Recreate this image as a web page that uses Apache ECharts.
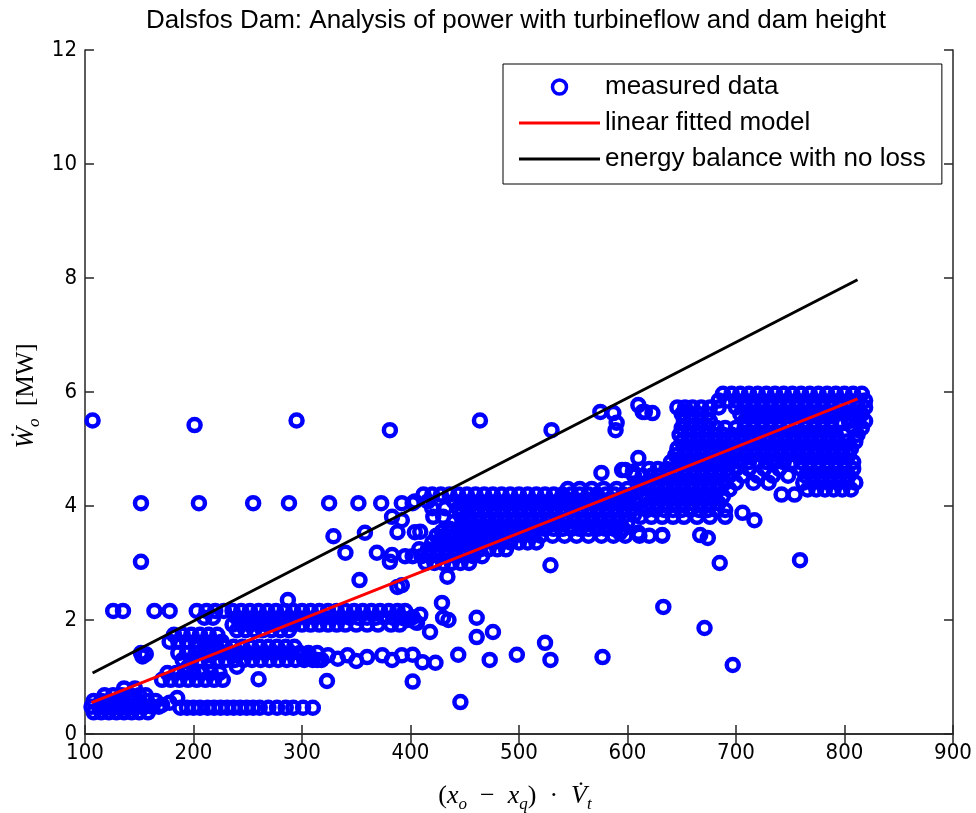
<!DOCTYPE html>
<html>
<head>
<meta charset="utf-8">
<script src="https://cdn.jsdelivr.net/npm/echarts@6/dist/echarts.min.js"></script>
<style>
html,body{margin:0;padding:0;background:#fff;}
#chart{width:976px;height:813px;}
</style>
</head>
<body>
<div id="chart"></div>
<script>
// ---------------- data ----------------
const titleText = 'Dalsfos Dam: Analysis of power with turbineflow and dam height';
const seriesNames = ['measured data', 'linear fitted model', 'energy balance with no loss'];

// fitted model and no-loss line end points
const fittedLine = [[106, 0.55], [812, 5.88]];
const noLossLine = [[107, 1.07], [812, 7.97]];

// isolated measured points [x, y]
const scatteredPts = [
  [107,5.5],[201,5.42],[295,5.5],[381,5.33],[464,5.5],[530,5.33],
  [575,5.65],[587,5.63],[590,5.46],[589,5.33],[610,5.77],[614,5.65],[616,5.65],[623,5.63],
  [610,4.84],[576,4.58],[595,4.63],[605,4.6],[598,4.63],
  [151.6,4.05],[205,4.05],[255,4.05],[288,4.05],[325,4.05],[352,4.05],[373,4.05],[392,4.05],[402,4.05],
  [151.6,3.02],[126,2.16],[135,2.16],[164,2.16],[178,2.16],[203,2.16],
  [151.6,1.42],[153,1.36],[156,1.4],
  [287,2.35],[353,2.7],[388,2.58],[392,2.61],[434,2.76],[429,2.3],[381,3.02],
  [329,3.47],[358,3.53],[340,3.18],[369,3.18],[383,3.14],[388,3.54],[404,3.54],[409,3.55],[429,3.55],
  [383,3.81],[392,3.75],[421,3.81],[430,3.81],[452,3.81],
  [402,2.05],[409,2.09],[406,1.95],[430,2.04],[435,2.0],[418,1.79],[461,2.04],[461,1.7],[476,1.79],
  [397,2.0],[404,1.97],
  [402,1.39],[411,1.26],[423,1.25],[444,1.39],[473,1.3],[498,1.39],[524,1.6],[529,1.3],[577,1.35],
  [402,0.92],[446,0.56],[260,0.96],[323,0.93],[529,2.96],
  [305,1.35],[314,1.3],[324,1.38],[333,1.32],[342,1.38],[350,1.28],[360,1.35],[374,1.38],[383,1.3],[392,1.38],
  [178,0.55],[185,0.63],[171,0.51],
  [667,3.49],[674,3.44],[610,3.53],[632,3.49],[593,3.53],[717,3.75],[706,3.88],
  [633,2.23],[671,1.86],[697,1.21],[759,3.05],[685,3.0],[742,4.2],[754,4.2]
];

// dense rows near the origin: [y, [x values]]
const lowRows = [
  [0.38, [108,115,122,129,136,143,150,158]],
  [0.48, [106,113,120,127,134,141,148,155,162,168]],
  [0.58, [108,115,122,129,136,143,150,157,165]],
  [0.68, [118,126,134,142,150,156]],
  [0.80, [136,146]],
  [0.46, [188,194,200,206,213,219,225,231,237,243,249,255,261,269,277,285,292,301,310]],
  [0.95, [171,179,187,195,203,211,219,227]],
  [1.07, [176,184,192,200,208,216,224]],
  [1.18, [195,215,240]],
  [1.30, [190,198,206,214,222,230,238,246,254,262,270,278,286,294,302,310,318]],
  [1.42, [186,194,202,210,218,226,234,242,250,258,266,274,282,290,298,306,314]],
  [1.53, [205,213,221,229,237,245,253,261,269,277,285,293]],
  [1.62, [178,186,194,202,210,218,226]],
  [1.74, [182,190,198,206,214,222]],
  [1.82, [240,248,256,264,272,280,288]],
  [1.92, [236,244,252,260,268,276,284,292,300,308,316,324,332,340,350,360,370,382,390]],
  [2.04, [210,218,240,248,256,264,272,280,288,296,304,312,320,328,336,344,352,360,368,376,384,392]],
  [2.16, [212,220,228,236,244,252,260,268,276,284,292,300,308,316,324,332,340,348,356,364,372,380,388,395]]
];

// middle band 400-650: [y, [x values]]
const midRows = [
  [4.30, [545,556,567,578,590,600,610]],
  [4.20, [412,420,428,436,444,452,460,468,476,484,492,500,508,516,524,532,540,548,556,564,572,580,588,596,604]],
  [4.08, [404,416,440,448,456,464,472,480,488,496,504,512,520,528,536,544,552,560,568,576,584,592,600,608]],
  [3.96, [420,432,444,452,460,468,476,484,492,500,508,516,524,532,540,548,556,564,572,580,588,596,604,612]],
  [3.84, [446,454,462,470,478,486,494,502,510,518,526,534,542,550,558,566,574,582,590,598,606]],
  [3.72, [440,448,456,464,472,480,488,496,504,512,520,528,536,544,552,560,568,576,584,592,600]],
  [3.60, [436,444,452,460,468,476,484,492,500,508,516,524,532,540,548,556,564,572,580,588,596]],
  [3.48, [424,432,440,448,456,464,472,480,488,496,504,512,520,531,542,553,564,576,587,598,611,620,632]],
  [3.36, [420,428,436,444,452,460,468,476,484,492,500,508,516]],
  [3.24, [408,416,424,432,440,448,456,464,472,480,488]],
  [3.12, [395,402,410,418,426,434,442,450,458,466]],
  [3.00, [414,422,430,438,446,454]]
];

// upper-right cloud 600-820: [y, [x values]]
const highRows = [
  [5.97, [688,696,704,712,720,728,736,744,752,760,768,776,784,792,800,808,816]],
  [5.85, [684,692,700,708,716,724,732,740,748,756,764,772,780,788,796,804,812,819]],
  [5.73, [646,653,660,668,676,684,700,708,716,724,732,740,748,756,764,772,780,788,796,804,812,819]],
  [5.61, [650,658,666,674,704,712,720,728,736,744,752,760,768,776,784,792,800,808,816]],
  [5.49, [652,660,668,676,708,716,724,732,740,748,756,764,772,780,788,796,804,812,819]],
  [5.37, [650,658,666,674,682,690,700,708,716,724,732,740,748,756,764,772,780,788,808,816]],
  [5.25, [648,656,664,672,680,688,696,704,712,720,728,736,744,752,760,768,776,784,792,800,812]],
  [5.13, [650,658,666,674,682,690,698,706,714,722,730,738,746,754,762,770,778,786,794,802,810]],
  [5.01, [646,654,662,670,678,686,694,702,710,718,726,734,742,750,758,766,774,782,790,798,806]],
  [4.89, [644,652,660,668,676,684,692,700,708,716,724,732,740,748,756,764,772,780,788,796,804]],
  [4.77, [640,648,656,664,672,680,688,696,704,712,720,728,736,744,752,760,768,776,784,792,800,808]],
  [4.65, [620,628,636,644,652,660,668,676,684,692,700,712,726,740,760,768,776,784,792,800,808]],
  [4.53, [606,614,622,630,638,646,654,662,670,678,686,694,706,720,734,748,764,772,780,788,796,804]],
  [4.41, [610,618,626,634,642,650,658,666,674,682,690,700,716,730,762,770,778,786,794,802,810]],
  [4.29, [612,620,628,636,644,652,660,668,676,684,694,766,774,782,790,798,806]],
  [4.17, [616,624,632,640,648,656,664,672,680,688]],
  [4.05, [620,628,636,644,652,660,668,676,684]],
  [3.93, [618,626,634,642,650,658,666,674,682,690]],
  [3.81, [612,622,632,642,652,664,676,690]]
];

// ---------------- build ----------------
function rowsToPoints(rows) {
  const out = [];
  rows.forEach(([y, xs]) => xs.forEach(x => out.push([x, y])));
  return out;
}
const measured = scatteredPts.concat(rowsToPoints(lowRows), rowsToPoints(midRows), rowsToPoints(highRows));

const chart = echarts.init(document.getElementById('chart'), null, {renderer: 'canvas'});
const axisColor = '#262626';
const tickFont = "'Liberation Sans Narrow','Arial Narrow','DejaVu Sans Condensed','Liberation Sans',sans-serif";
const serif = "'Liberation Serif','DejaVu Serif',serif";

const option = {
  backgroundColor: '#ffffff',
  animation: false,
  title: {
    text: titleText,
    left: 511, top: 3, textAlign: 'center',
    textStyle: {fontFamily: "'Liberation Sans',Arial,sans-serif", fontWeight: 'normal', fontSize: 26, color: '#000'}
  },
  grid: {left: 85, right: 23, top: 50, bottom: 79, containLabel: false},
  legend: {
    orient: 'vertical',
    left: 503, top: 64,
    padding: [8, 16, 10, 16],
    itemGap: 6,
    itemWidth: 81, itemHeight: 14,
    borderColor: '#000', borderWidth: 1,
    backgroundColor: '#fff',
    textStyle: {fontFamily: "'Liberation Sans',Arial,sans-serif", fontSize: 26, color: '#000', lineHeight: 30},
    data: [
      {name: seriesNames[0], icon: 'circle', itemStyle: {color: 'transparent', borderColor: '#0000ff', borderWidth: 3.5}},
      {name: seriesNames[1], icon: 'path://M0 0H81V3H0Z', itemStyle: {color: '#ff0000', borderWidth: 0}},
      {name: seriesNames[2], icon: 'path://M0 0H81V3H0Z', itemStyle: {color: '#000000', borderWidth: 0}}
    ]
  },
  xAxis: [{
    type: 'value', min: 100, max: 900, interval: 100,
    axisLine: {lineStyle: {color: axisColor, width: 1.5}},
    axisTick: {inside: true, length: 9, lineStyle: {color: axisColor, width: 1.5}},
    axisLabel: {fontFamily: tickFont, fontSize: 22, color: '#000', margin: 8},
    splitLine: {show: false}
  }, {
    type: 'value', min: 100, max: 900, interval: 100, position: 'top',
    axisLine: {lineStyle: {color: axisColor, width: 1.5}},
    axisTick: {inside: true, length: 9, lineStyle: {color: axisColor, width: 1.5}},
    axisLabel: {show: false}, splitLine: {show: false}
  }],
  yAxis: [{
    type: 'value', min: 0, max: 12, interval: 2,
    axisLine: {show: true, lineStyle: {color: axisColor, width: 1.5}},
    axisTick: {show: true, inside: true, length: 9, lineStyle: {color: axisColor, width: 1.5}},
    axisLabel: {fontFamily: tickFont, fontSize: 22, color: '#000', margin: 8},
    splitLine: {show: false}
  }, {
    type: 'value', min: 0, max: 12, interval: 2, position: 'right',
    axisLine: {show: true, lineStyle: {color: axisColor, width: 1.5}},
    axisTick: {show: true, inside: true, length: 9, lineStyle: {color: axisColor, width: 1.5}},
    axisLabel: {show: false}, splitLine: {show: false}
  }],
  graphic: [{
    type: 'text',
    x: 515, y: 796,
    style: {
      x: 0, y: 0, textAlign: 'center', textVerticalAlign: 'middle',
      text: '{n|(}{i|x}{s|o}{n|  −  }{i|x}{s|q}{n|)  ·  }{i|V̇}{s|t}',
      rich: {
        n: {fontFamily: serif, fontSize: 26, color: '#000', lineHeight: 34, verticalAlign: 'middle'},
        i: {fontFamily: serif, fontStyle: 'italic', fontSize: 26, color: '#000', lineHeight: 34, verticalAlign: 'middle'},
        s: {fontFamily: serif, fontStyle: 'italic', fontSize: 17, color: '#000', lineHeight: 34, verticalAlign: 'bottom'}
      }
    }
  }, {
    type: 'text',
    x: 26, y: 396, rotation: Math.PI / 2,
    style: {
      x: 0, y: 0, textAlign: 'center', textVerticalAlign: 'middle',
      text: '{i|Ẇ}{s|o}{n|  [MW]}',
      rich: {
        n: {fontFamily: serif, fontSize: 25, color: '#000', lineHeight: 34, verticalAlign: 'middle'},
        i: {fontFamily: serif, fontStyle: 'italic', fontSize: 26, color: '#000', lineHeight: 34, verticalAlign: 'middle'},
        s: {fontFamily: serif, fontStyle: 'italic', fontSize: 17, color: '#000', lineHeight: 34, verticalAlign: 'bottom'}
      }
    }
  }],
  series: [{
    name: seriesNames[0], type: 'scatter',
    xAxisIndex: 0, yAxisIndex: 0,
    symbol: 'circle', symbolSize: 12,
    itemStyle: {color: 'transparent', borderColor: '#0000ff', borderWidth: 4.5, opacity: 1},
    emphasis: {disabled: true},
    data: measured, z: 2
  }, {
    name: seriesNames[1], type: 'line',
    xAxisIndex: 0, yAxisIndex: 0,
    symbol: 'none', showSymbol: false,
    lineStyle: {color: '#ff0000', width: 3},
    itemStyle: {color: '#ff0000'},
    data: fittedLine, z: 3
  }, {
    name: seriesNames[2], type: 'line',
    xAxisIndex: 0, yAxisIndex: 0,
    symbol: 'none', showSymbol: false,
    lineStyle: {color: '#000000', width: 3},
    itemStyle: {color: '#000000'},
    data: noLossLine, z: 3
  }]
};
chart.setOption(option);
</script>
</body>
</html>
